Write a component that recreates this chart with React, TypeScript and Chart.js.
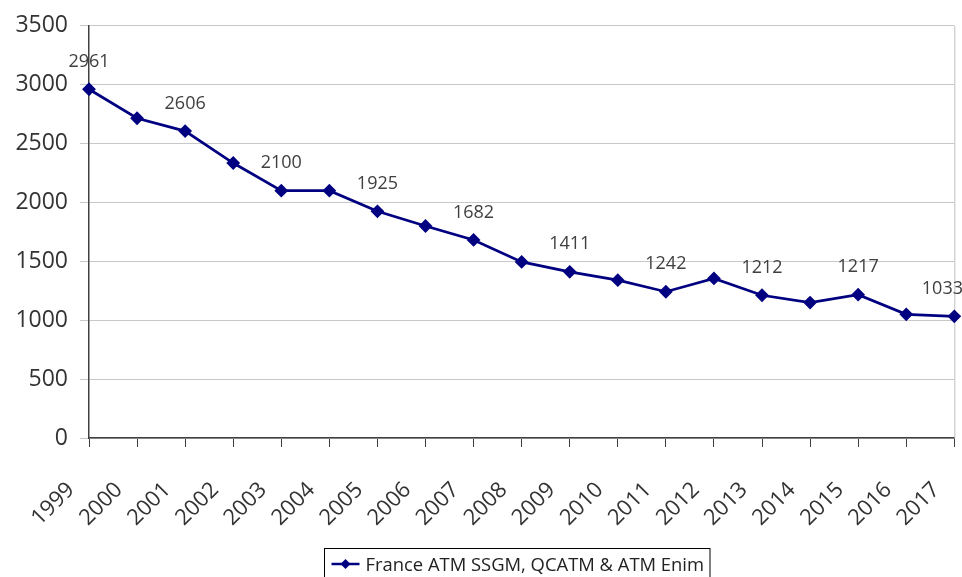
import React, { useEffect, useRef } from "react";
import { Chart, registerables } from "chart.js";

Chart.register(...registerables);

const years = ["1999","2000","2001","2002","2003","2004","2005","2006","2007","2008","2009","2010","2011","2012","2013","2014","2015","2016","2017"];
const values = [2961, 2715, 2606, 2335, 2100, 2100, 1925, 1800, 1682, 1495, 1411, 1340, 1242, 1355, 1212, 1150, 1217, 1050, 1033];
const seriesName = "France ATM SSGM, QCATM & ATM Enim";
const yTicks = [0, 500, 1000, 1500, 2000, 2500, 3000, 3500];

const FONT = "'Open Sans', 'Noto Sans', sans-serif";
const NAVY = "#000080";

const labelsPlugin = {
  id: "valueLabels",
  afterDatasetsDraw(chart: any) {
    const ctx = chart.ctx;
    const meta = chart.getDatasetMeta(0);
    ctx.save();
    ctx.font = `18px ${FONT}`;
    ctx.fillStyle = "#404040";
    ctx.textAlign = "center";
    ctx.textBaseline = "middle";
    meta.data.forEach((pt: any, i: number) => {
      if (i % 2 !== 0) return;
      const text = String(values[i]);
      const w = ctx.measureText(text).width;
      let x = pt.x;
      x = Math.min(x, chart.width - w / 2 + 1);
      x = Math.max(x, w / 2);
      ctx.fillText(text, x, pt.y - 27.5);
    });
    ctx.restore();
  },
  beforeDatasetsDraw(chart: any) {
    const ctx = chart.ctx;
    const a = chart.chartArea;
    ctx.save();
    ctx.strokeStyle = "#c0c0c0";
    ctx.lineWidth = 1;
    ctx.beginPath();
    ctx.moveTo(a.right + 0.5, a.top);
    ctx.lineTo(a.right + 0.5, a.bottom);
    ctx.stroke();
    ctx.restore();
  },
  afterDraw(chart: any) {
    const ctx = chart.ctx;
    ctx.save();
    ctx.font = `18.4px ${FONT}`;
    const tw = ctx.measureText(seriesName).width;
    const boxX = 324.5;
    const boxW = 41 + tw + 6;
    const boxY = 548.5;
    ctx.strokeStyle = "#000";
    ctx.lineWidth = 1;
    ctx.strokeRect(boxX, boxY, boxW, 40);
    const cy = 564;
    ctx.strokeStyle = NAVY;
    ctx.lineWidth = 2.5;
    ctx.beginPath();
    ctx.moveTo(boxX + 7, cy);
    ctx.lineTo(boxX + 35, cy);
    ctx.stroke();
    ctx.fillStyle = NAVY;
    const dx = boxX + 21;
    ctx.beginPath();
    ctx.moveTo(dx, cy - 5);
    ctx.lineTo(dx + 5, cy);
    ctx.lineTo(dx, cy + 5);
    ctx.lineTo(dx - 5, cy);
    ctx.closePath();
    ctx.fill();
    ctx.fillStyle = "#222";
    ctx.textAlign = "left";
    ctx.textBaseline = "middle";
    ctx.fillText(seriesName, boxX + 41, cy + 2);
    ctx.restore();
  },
};

export default function App() {
  const ref = useRef<HTMLCanvasElement | null>(null);
  useEffect(() => {
    document.body.style.margin = "0";
    if (!ref.current) return;
    const chart = new Chart(ref.current, {
      type: "line",
      data: {
        labels: years,
        datasets: [
          {
            label: seriesName,
            data: values,
            borderColor: NAVY,
            backgroundColor: NAVY,
            borderWidth: 2.7,
            pointStyle: "rectRot",
            pointRadius: 5,
            pointBackgroundColor: NAVY,
            pointBorderColor: NAVY,
            tension: 0,
            clip: false as any,
          },
        ],
      },
      options: {
        responsive: false,
        animation: false,
        layout: { padding: { top: 10, right: 7, bottom: 29, left: 0 } },
        plugins: {
          legend: { display: false },
          tooltip: { enabled: false },
        },
        scales: {
          x: {
            offset: false,
            grid: { drawOnChartArea: false, drawTicks: true, tickLength: 9, color: "#404040", lineWidth: 1 },
            border: { color: "#404040", width: 1.5 },
            ticks: {
              autoSkip: false,
              maxRotation: 45,
              minRotation: 45,
              color: "#333",
              font: { family: FONT, size: 22 },
              padding: 30,
              labelOffset: -18,
            },
            afterFit: (s: any) => { s.height = 110; s.paddingRight = 0; s.paddingLeft = 0; },
          },
          y: {
            min: 0,
            max: 3500,
            afterBuildTicks: (s: any) => { s.ticks = yTicks.map((v) => ({ value: v })); },
            grid: { color: "#c8c8c8", tickLength: 9, lineWidth: 1 },
            border: { color: "#404040", width: 1.5 },
            ticks: {
              color: "#333",
              font: { family: FONT, size: 23 },
              padding: 12,
              callback: (v: any) => String(v),
            },
            afterFit: (s: any) => { s.width = 89; },
          },
        },
      },
      plugins: [labelsPlugin],
    });
    return () => chart.destroy();
  }, []);
  return (
    <div style={{ width: 962, height: 577 }}>
      <canvas ref={ref} width={962} height={577} style={{ display: "block" }} />
    </div>
  );
}
